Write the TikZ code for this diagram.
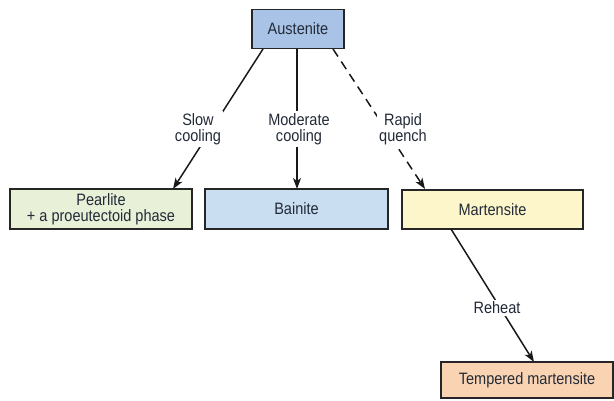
\documentclass[tikz,border=0pt]{standalone}
\usepackage{fontspec}
\setmainfont[FakeStretch=0.88]{Liberation Sans}
\usetikzlibrary{arrows.meta}
\definecolor{austc}{HTML}{A9C3E6}
\definecolor{pearc}{HTML}{E8F0D8}
\definecolor{bainc}{HTML}{C9DEF0}
\definecolor{martc}{HTML}{FDF6CA}
\definecolor{tempc}{HTML}{FAD3B2}
\definecolor{txt}{HTML}{222A38}
\begin{document}
\begin{tikzpicture}[x=1pt,y=-1pt,
  phase/.style={draw=black!85, line width=1.3pt, minimum height=39pt, align=center, inner sep=0pt,
    font=\fontsize{16.5}{17}\selectfont, text=txt},
  conn/.style={line width=1.5pt, -{Stealth[length=11pt,width=8pt,inset=3pt]}, draw=black!90},
  lab/.style={fill=white, align=center, inner sep=2pt, font=\fontsize{16.5}{16}\selectfont, text=txt}]
\useasboundingbox (0,0) rectangle (614,401);
\node[phase, fill=austc, minimum width=92pt] (aus) at (298,29) {Austenite};
\node[phase, fill=pearc, minimum width=182pt, minimum height=40pt] (pea) at (101,209) {Pearlite\\[-1pt]+ a proeutectoid phase};
\node[phase, fill=bainc, minimum width=183pt, minimum height=40pt] (bai) at (296.5,209) {Bainite};
\node[phase, fill=martc, minimum width=181pt, minimum height=39pt] (mar) at (492.5,209.5) {Martensite};
\node[phase, fill=tempc, minimum width=172pt, minimum height=36pt] (tem) at (527,380) {Tempered martensite};
\coordinate (a1) at (263,49);
\coordinate (a2) at (297,49);
\coordinate (a3) at (333,49);
\coordinate (p1) at (173,189);
\coordinate (b1) at (297,189);
\coordinate (m1) at (425,189);
\coordinate (m2) at (451,229);
\coordinate (t1) at (534,362);
\draw[conn] (a1) -- (p1);
\draw[conn] (a2) -- (b1);
\draw[conn, dash pattern=on 9pt off 6pt] (a3) -- (m1);
\draw[conn] (m2) -- (t1);
\node[lab] (ls) at (198,129) {Slow\\cooling};
\node[lab] (lm) at (299,129) {Moderate\\cooling};
\node[lab] (lr) at (403,129) {Rapid\\quench};
\node[lab] (lh) at (497,308) {Reheat};
\end{tikzpicture}
\end{document}
